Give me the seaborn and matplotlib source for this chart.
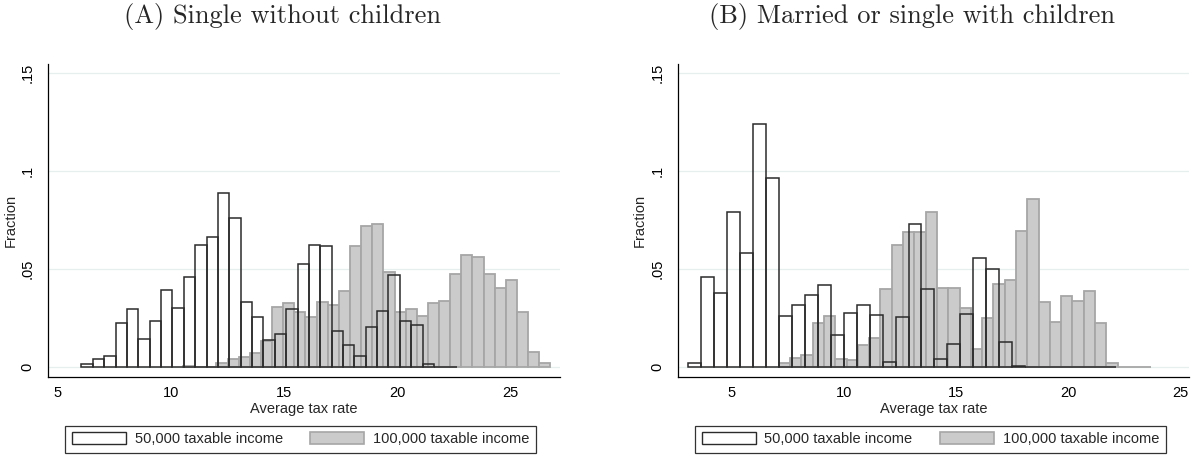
import numpy as np
import matplotlib
matplotlib.use("Agg")
import matplotlib.pyplot as plt
from matplotlib.patches import Patch
import seaborn as sns

# bin layout of each histogram (first left edge, bin width)
a50_start, a50_width = 6.04, 0.503
a100_start, a100_width = 10.53, 0.4925
b50_start, b50_width = 3.04, 0.5786
b100_start, b100_width = 7.10, 0.503

# fractions per bin, panel A (single without children)
a50_frac = [0.0015, 0.0044, 0.0058, 0.0227, 0.0298, 0.0145, 0.0235, 0.0394, 0.0303,
            0.0460, 0.0625, 0.0663, 0.0888, 0.0758, 0.0330, 0.0254, 0.0140, 0.0169,
            0.0298, 0.0526, 0.0625, 0.0617, 0.0186, 0.0112, 0.0055, 0.0204, 0.0286,
            0.0472, 0.0235, 0.0213, 0.0015, 0.0002, 0.0002]
a100_frac = [0.0005, 0.0003, 0.0003, 0.0020, 0.0040, 0.0051, 0.0071, 0.0136, 0.0306,
             0.0325, 0.0280, 0.0255, 0.0332, 0.0315, 0.0391, 0.0616, 0.0718, 0.0728,
             0.0483, 0.0279, 0.0299, 0.0262, 0.0327, 0.0340, 0.0473, 0.0570, 0.0560,
             0.0473, 0.0403, 0.0442, 0.0284, 0.0077, 0.0020]

# fractions per bin, panel B (married or single with children)
b50_frac = [0.0024, 0.0462, 0.0376, 0.0789, 0.0581, 0.1237, 0.0966, 0.0262, 0.0315,
            0.0366, 0.0417, 0.0162, 0.0276, 0.0315, 0.0266, 0.0029, 0.0258, 0.0731,
            0.0399, 0.0044, 0.0118, 0.0269, 0.0557, 0.0501, 0.0131, 0.0007, 0.0,
            0.0, 0.0003, 0.0003, 0.0, 0.0, 0.0003]
b100_frac = [0.0020, 0.0046, 0.0061, 0.0228, 0.0259, 0.0041, 0.0036, 0.0111, 0.0148,
             0.0397, 0.0623, 0.0690, 0.0690, 0.0792, 0.0402, 0.0402, 0.0300, 0.0092,
             0.0250, 0.0424, 0.0445, 0.0695, 0.0859, 0.0332, 0.0230, 0.0361, 0.0336,
             0.0387, 0.0225, 0.0020, 0.0003, 0.0, 0.0003]

titles = ["(A) Single without children", "(B) Married or single with children"]
legend_labels = ["50,000 taxable income", "100,000 taxable income"]
x_ticks = [5, 10, 15, 20, 25]
y_ticks = [0, 0.05, 0.1, 0.15]
y_ticklabels = ["0", ".05", ".1", ".15"]

sns.set_theme(style="white")
plt.rcParams["font.family"] = ["Liberation Sans", "DejaVu Sans"]

GRAY = "#cbcbcb"
GRAY_EDGE = "#a6a6a6"
DARK = "#2b2b2b"
GRID = "#e6eeee"


def bins_of(start, width, n):
    edges = start + width * np.arange(n + 1)
    return edges.tolist(), edges[:-1] + width / 2


def draw_panel(ax, low, high, xlim):
    # low / high = (start, width, fractions)
    e1, c1 = bins_of(high[0], high[1], len(high[2]))
    e0, c0 = bins_of(low[0], low[1], len(low[2]))
    # gray series first, the outlined one on top (no fill, so gray shows through)
    sns.histplot(x=c1, weights=high[2], bins=e1, ax=ax, fill=True, alpha=1,
                 color=GRAY, edgecolor=GRAY_EDGE, linewidth=1.3, zorder=2)
    sns.histplot(x=c0, weights=low[2], bins=e0, ax=ax, fill=False,
                 color=DARK, linewidth=1.1, zorder=3)
    ax.set_xlim(*xlim)
    ax.set_ylim(-0.0048, 0.1543)
    ax.set_xticks(x_ticks)
    ax.set_yticks(y_ticks)
    ax.set_yticklabels(y_ticklabels, rotation=90, va="center")
    ax.tick_params(axis="both", direction="out", length=4.5, width=0.8,
                   color="black", labelsize=10.5, labelcolor="black")
    ax.tick_params(axis="y", pad=5)
    ax.tick_params(axis="x", pad=2.5)
    for y in y_ticks:
        ax.axhline(y, color=GRID, lw=0.9, zorder=1)
    for s in ["top", "right"]:
        ax.spines[s].set_visible(False)
    for s in ["left", "bottom"]:
        ax.spines[s].set_color("black")
        ax.spines[s].set_linewidth(0.9)
    ax.set_xlabel("Average tax rate", fontsize=10.5, labelpad=1)
    ax.set_ylabel("Fraction", fontsize=10.5, labelpad=2.5)
    handles = [Patch(facecolor="white", edgecolor=DARK, linewidth=1.0),
               Patch(facecolor=GRAY, edgecolor=GRAY_EDGE, linewidth=1.2)]
    leg = ax.legend(handles, legend_labels, loc="upper left",
                    bbox_to_anchor=(0.034, -0.157), ncol=2, frameon=True,
                    fancybox=False, fontsize=10.5, handlelength=3.7,
                    handleheight=0.9, handletextpad=0.6, columnspacing=1.9,
                    borderpad=0.45, borderaxespad=0)
    leg.get_frame().set_edgecolor("black")
    leg.get_frame().set_linewidth(0.9)


W, H = 1192, 457
fig = plt.figure(figsize=(W / 100, H / 100), dpi=100)
ax_a = fig.add_axes([48 / W, (H - 376.7) / H, 511.6 / W, 312.4 / H])
ax_b = fig.add_axes([677.8 / W, (H - 376.7) / H, 511.2 / W, 312.4 / H])

draw_panel(ax_a, (a50_start, a50_width, a50_frac),
           (a100_start, a100_width, a100_frac), (4.56, 27.19))
draw_panel(ax_b, (b50_start, b50_width, b50_frac),
           (b100_start, b100_width, b100_frac), (2.6, 25.37))

fig.text(282 / W, 1 - 17 / H, titles[0], ha="center", va="center",
         fontsize=19, family="cmr10")
fig.text(912 / W, 1 - 17 / H, titles[1], ha="center", va="center",
         fontsize=19, family="cmr10")

fig.savefig("out.png", dpi=100, facecolor="white")
